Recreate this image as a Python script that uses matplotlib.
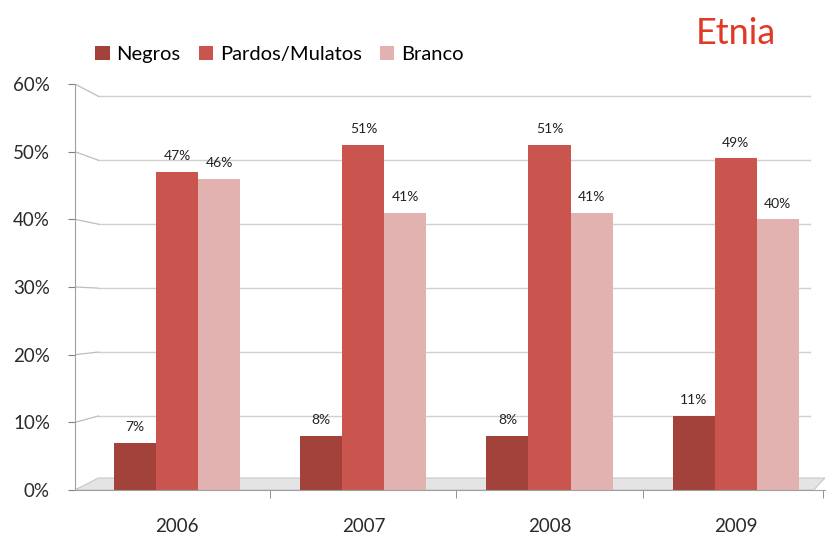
import matplotlib
matplotlib.use("Agg")
import matplotlib.pyplot as plt
from matplotlib.patches import Polygon, Patch
import matplotlib.transforms as mtransforms
import numpy as np

plt.rcParams['font.family'] = ['Lato', 'DejaVu Sans']

years = ['2006', '2007', '2008', '2009']
series_names = ['Negros', 'Pardos/Mulatos', 'Branco']
negros = [0.07, 0.08, 0.08, 0.11]
pardos = [0.47, 0.51, 0.51, 0.49]
branco = [0.46, 0.41, 0.41, 0.40]
yticks = [0.0, 0.1, 0.2, 0.3, 0.4, 0.5, 0.6]
ytick_labels = ['0%', '10%', '20%', '30%', '40%', '50%', '60%']

colors = ['#A2423B', '#C9554E', '#E2B2B1']
series = [negros, pardos, branco]

fig = plt.figure(figsize=(8.32, 5.39), dpi=100)
ax = fig.add_axes([0.0901, 0.0909, 0.9014, 0.7532])
ax.set_ylim(0, 0.6)
ax.set_xlim(-0.55, 3.48)

x = np.arange(len(years))
w = 0.226

# back-wall gridlines with perspective connectors
bt = mtransforms.blended_transform_factory(ax.transAxes, ax.transData)
x_wall = 0.031
for v in yticks:
    gy = 0.0148 + v * 0.9453
    ax.plot([x_wall, 0.98], [gy, gy], color='#D0D0D0', lw=1.0, transform=bt, zorder=0)
    ax.plot([0.0, x_wall], [v, gy], color='#BDBDBD', lw=0.9, transform=bt, zorder=0)

# floor
floor = Polygon([[0.0, 0.0], [x_wall, 0.0177], [1.0, 0.0177], [0.985, 0.0]],
                closed=True, transform=bt, facecolor='#E4E4E4', edgecolor='#C8C8C8',
                lw=0.8, zorder=0.5)
ax.add_patch(floor)

offsets = [-w, 0.0, w]
for vals, col, off in zip(series, colors, offsets):
    ax.bar(x + off, vals, width=w, color=col, edgecolor='none', zorder=2)
    for xi, v in zip(x + off, vals):
        ax.annotate(f'{round(v * 100):d}%', (xi, v), xytext=(0, 7),
                    textcoords='offset points', ha='center', va='bottom',
                    fontsize=10, color='#222222', zorder=3)

for s in ['top', 'right']:
    ax.spines[s].set_visible(False)
ax.spines['left'].set_color('#A0A0A0')
ax.spines['bottom'].set_color('#A0A0A0')

ax.set_yticks(yticks)
ax.set_yticklabels(ytick_labels)
ax.tick_params(axis='y', length=5, color='#808080', pad=13, labelsize=13.5,
               labelcolor='#2A2A2A')
ax.set_xticks(x)
ax.set_xticklabels(years)
ax.tick_params(axis='x', which='major', length=0, pad=20, labelsize=13.5,
               labelcolor='#2A2A2A')
ax.set_xticks([0.5, 1.5, 2.5, 3.47], minor=True)
ax.tick_params(axis='x', which='minor', length=6, color='#808080')

handles = [Patch(facecolor=c, edgecolor='none') for c in colors]
fig.legend(handles, series_names, loc='upper left', bbox_to_anchor=(0.105, 0.93),
           ncol=3, frameon=False, fontsize=14.5, handlelength=0.7, handleheight=0.7,
           handletextpad=0.35, columnspacing=0.9, borderaxespad=0)

fig.text(736 / 832, 1 - 33 / 539, 'Etnia', ha='center', va='center',
         color='#E03A26', fontsize=26)

fig.savefig('out.png', dpi=100)
